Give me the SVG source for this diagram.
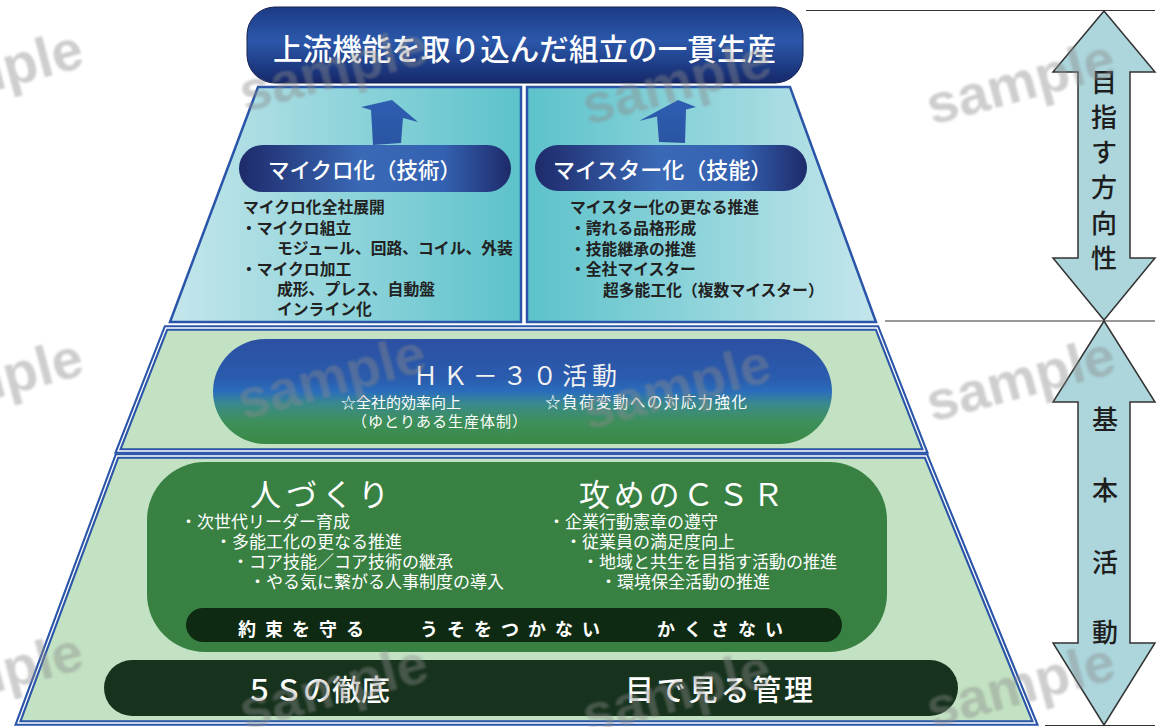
<svg xmlns="http://www.w3.org/2000/svg" width="1161" height="727" viewBox="0 0 1161 727">
<defs>
<style>
.jp{font-family:"Noto Sans CJK JP","Noto Sans CJK SC",sans-serif}
.w{fill:#ffffff}
.dk{fill:#1e1e1e}
.pnl{font-size:15.8px;font-weight:700;fill:#222}
.lst{font-size:17px;fill:#ffffff}
.vt{font-size:26px;font-weight:500;fill:#1e1e1e;text-anchor:middle}
.tier{fill:#c3e2c3;stroke:#2a55a8;stroke-width:5.5}
.tierIn{fill:none;stroke:#ffffff;stroke-width:1.3}
.rl{stroke:#333;stroke-width:1.2;fill:none}
.darr{fill:#acd6dc;stroke:#333;stroke-width:1.5}
.wm{font-family:"Liberation Sans",Arial,sans-serif;font-weight:700;font-size:56px;fill:#8a8a8a;opacity:0.42}
</style>
<linearGradient id="gBanner" x1="0" y1="0" x2="0" y2="1">
<stop offset="0" stop-color="#1d3b86"/><stop offset="0.45" stop-color="#2b58aa"/><stop offset="1" stop-color="#15286a"/>
</linearGradient>
<linearGradient id="gPill" x1="0" y1="0" x2="1" y2="0">
<stop offset="0" stop-color="#1e2a6a"/><stop offset="0.45" stop-color="#3a69b6"/><stop offset="0.75" stop-color="#3462b2"/><stop offset="1" stop-color="#1e2a6a"/>
</linearGradient>
<linearGradient id="gLeft" x1="170" y1="0" x2="521" y2="0" gradientUnits="userSpaceOnUse">
<stop offset="0" stop-color="#c4e6eb"/><stop offset="1" stop-color="#5cc2cb"/>
</linearGradient>
<linearGradient id="gRight" x1="527" y1="0" x2="877" y2="0" gradientUnits="userSpaceOnUse">
<stop offset="0" stop-color="#5cc2cb"/><stop offset="1" stop-color="#c4e6eb"/>
</linearGradient>
<linearGradient id="gHK" x1="0" y1="0" x2="0" y2="1">
<stop offset="0" stop-color="#2c50a2"/><stop offset="0.38" stop-color="#2a5cae"/><stop offset="0.5" stop-color="#2a6dbc"/><stop offset="0.62" stop-color="#3a8a8c"/><stop offset="0.78" stop-color="#3e8f5c"/><stop offset="1" stop-color="#3a8a45"/>
</linearGradient>
<linearGradient id="gArrow" x1="0" y1="0" x2="0" y2="1">
<stop offset="0" stop-color="#2e5eb2"/><stop offset="1" stop-color="#2a55a3"/>
</linearGradient>
<filter id="blur" x="-10%" y="-10%" width="120%" height="120%"><feGaussianBlur stdDeviation="1"/></filter>
</defs>

<g id="tier-top-left">
<polygon points="258,87 521,87 521,322 170,322" fill="url(#gLeft)" stroke="#2a55a8" stroke-width="2.5"/>
<polygon points="392,100 418,122 403,118 401,143 373,145 371,110 361,107" fill="url(#gArrow)"/>
<rect x="239" y="145" width="272" height="47" rx="23.5" fill="url(#gPill)"/>
<text class="jp w" x="268" y="178" font-size="21.5" font-weight="500">マイクロ化（技術）</text>
<text class="jp pnl" x="243" y="213">マイクロ化全社展開</text>
<text class="jp pnl" x="241" y="234">・マイクロ組立</text>
<text class="jp pnl" x="277" y="254">モジュール、回路、コイル、外装</text>
<text class="jp pnl" x="241" y="275">・マイクロ加工</text>
<text class="jp pnl" x="277" y="295">成形、プレス、自動盤</text>
<text class="jp pnl" x="277" y="315">インライン化</text>
</g>

<g id="tier-top-right">
<polygon points="527,87 790,87 876,322 527,322" fill="url(#gRight)" stroke="#2a55a8" stroke-width="2.5"/>
<polygon points="678,100 696,107 686,109.5 685,143 659,142 657,116.6 639,121" fill="url(#gArrow)"/>
<rect x="535" y="145" width="272" height="46" rx="23" fill="url(#gPill)"/>
<text class="jp w" x="553" y="178" font-size="22" font-weight="500">マイスター化（技能）</text>
<text class="jp pnl" x="570" y="213">マイスター化の更なる推進</text>
<text class="jp pnl" x="570" y="234">・誇れる品格形成</text>
<text class="jp pnl" x="570" y="255">・技能継承の推進</text>
<text class="jp pnl" x="570" y="275">・全社マイスター</text>
<text class="jp pnl" x="603" y="296">超多能工化（複数マイスター）</text>
</g>

<g id="banner">
<rect x="247" y="7" width="556" height="76" rx="28" fill="url(#gBanner)" stroke="#16224f" stroke-width="1"/>
<text class="jp w" x="273" y="60" font-size="29.5" font-weight="500" textLength="503" lengthAdjust="spacing">上流機能を取り込んだ組立の一貫生産</text>
</g>

<g id="tier-middle">
<polygon class="tier" points="166,328 877,328 925,451 118,451"/>
<polygon class="tierIn" points="166,328 877,328 925,451 118,451"/>
<rect x="213" y="339" width="619" height="105" rx="52.5" fill="url(#gHK)"/>
<text class="jp" x="413" y="385" font-size="25" fill="#f2f2f2" textLength="204" lengthAdjust="spacing">ＨＫ－３０活動</text>
<text class="jp w" x="341" y="408" font-size="15" textLength="120" lengthAdjust="spacing">☆全社的効率向上</text>
<text class="jp w" x="352" y="427" font-size="15" textLength="175" lengthAdjust="spacing">（ゆとりある生産体制）</text>
<text class="jp w" x="545" y="408" font-size="15.5" textLength="202" lengthAdjust="spacing">☆負荷変動への対応力強化</text>
</g>

<g id="tier-bottom">
<polygon class="tier" points="117,456 926,456 1035,723 18,723"/>
<polygon class="tierIn" points="117,456 926,456 1035,723 18,723"/>
<rect x="147" y="462" width="740" height="190" rx="58" fill="#398143"/>
<text class="jp w" x="250" y="506" font-size="31" letter-spacing="5">人づくり</text>
<text class="jp w" x="579" y="506" font-size="31" letter-spacing="3.7">攻めのＣＳＲ</text>
<text class="jp lst" x="180" y="528">・次世代リーダー育成</text>
<text class="jp lst" x="215" y="548">・多能工化の更なる推進</text>
<text class="jp lst" x="232" y="568">・コア技能／コア技術の継承</text>
<text class="jp lst" x="249" y="588">・やる気に繋がる人事制度の導入</text>
<text class="jp lst" x="548" y="528">・企業行動憲章の遵守</text>
<text class="jp lst" x="565" y="548">・従業員の満足度向上</text>
<text class="jp lst" x="582" y="568">・地域と共生を目指す活動の推進</text>
<text class="jp lst" x="600" y="588">・環境保全活動の推進</text>
<rect x="186" y="608" width="656" height="34" rx="17" fill="#0f2a12"/>
<text class="jp w" y="636" font-size="18" font-weight="700" letter-spacing="9"><tspan x="238">約束を守る</tspan><tspan x="420">うそをつかない</tspan><tspan x="657">かくさない</tspan></text>
<rect x="104" y="660" width="854" height="56" rx="28" fill="#17331d"/>
<text class="jp w" x="245" y="701" font-size="29" font-weight="500">５Ｓの徹底</text>
<text class="jp w" x="625" y="701" font-size="29" font-weight="500" letter-spacing="2.8">目で見る管理</text>
</g>

<g id="connectors">
<line class="rl" x1="806" y1="10.5" x2="1155" y2="10.5"/>
<line class="rl" x1="885" y1="321" x2="1155" y2="321"/>
<line class="rl" x1="1045" y1="725.5" x2="1155" y2="725.5"/>
</g>

<g id="arrow-direction">
<polygon class="darr" points="1104,11 1155,72 1130,72 1130,258 1155,258 1104,320 1053,258 1078,258 1078,72 1053,72"/>
<text class="jp vt" x="1104" y="92">目</text>
<text class="jp vt" x="1104" y="127">指</text>
<text class="jp vt" x="1104" y="162">す</text>
<text class="jp vt" x="1104" y="197">方</text>
<text class="jp vt" x="1104" y="233">向</text>
<text class="jp vt" x="1104" y="268">性</text>
</g>

<g id="arrow-basic">
<polygon class="darr" points="1104,321 1155,402 1130,402 1130,643 1155,643 1104,725 1053,643 1078,643 1078,402 1053,402"/>
<text class="jp vt" x="1105" y="429">基</text>
<text class="jp vt" x="1105" y="500">本</text>
<text class="jp vt" x="1105" y="572">活</text>
<text class="jp vt" x="1105" y="642">動</text>
</g>

<g id="watermarks" filter="url(#blur)">
<text class="wm" transform="translate(-100,116) rotate(-15)">sample</text>
<text class="wm" transform="translate(245,112) rotate(-15)">sample</text>
<text class="wm" transform="translate(588,125) rotate(-15)">sample</text>
<text class="wm" transform="translate(932,125) rotate(-15)">sample</text>
<text class="wm" transform="translate(-100,424) rotate(-15)">sample</text>
<text class="wm" transform="translate(243,420) rotate(-15)">sample</text>
<text class="wm" transform="translate(588,430) rotate(-15)">sample</text>
<text class="wm" transform="translate(932,422) rotate(-15)">sample</text>
<text class="wm" transform="translate(-100,718) rotate(-15)">sample</text>
<text class="wm" transform="translate(245,730) rotate(-15)">sample</text>
<text class="wm" transform="translate(588,735) rotate(-15)">sample</text>
<text class="wm" transform="translate(932,728) rotate(-15)">sample</text>
</g>
</svg>
